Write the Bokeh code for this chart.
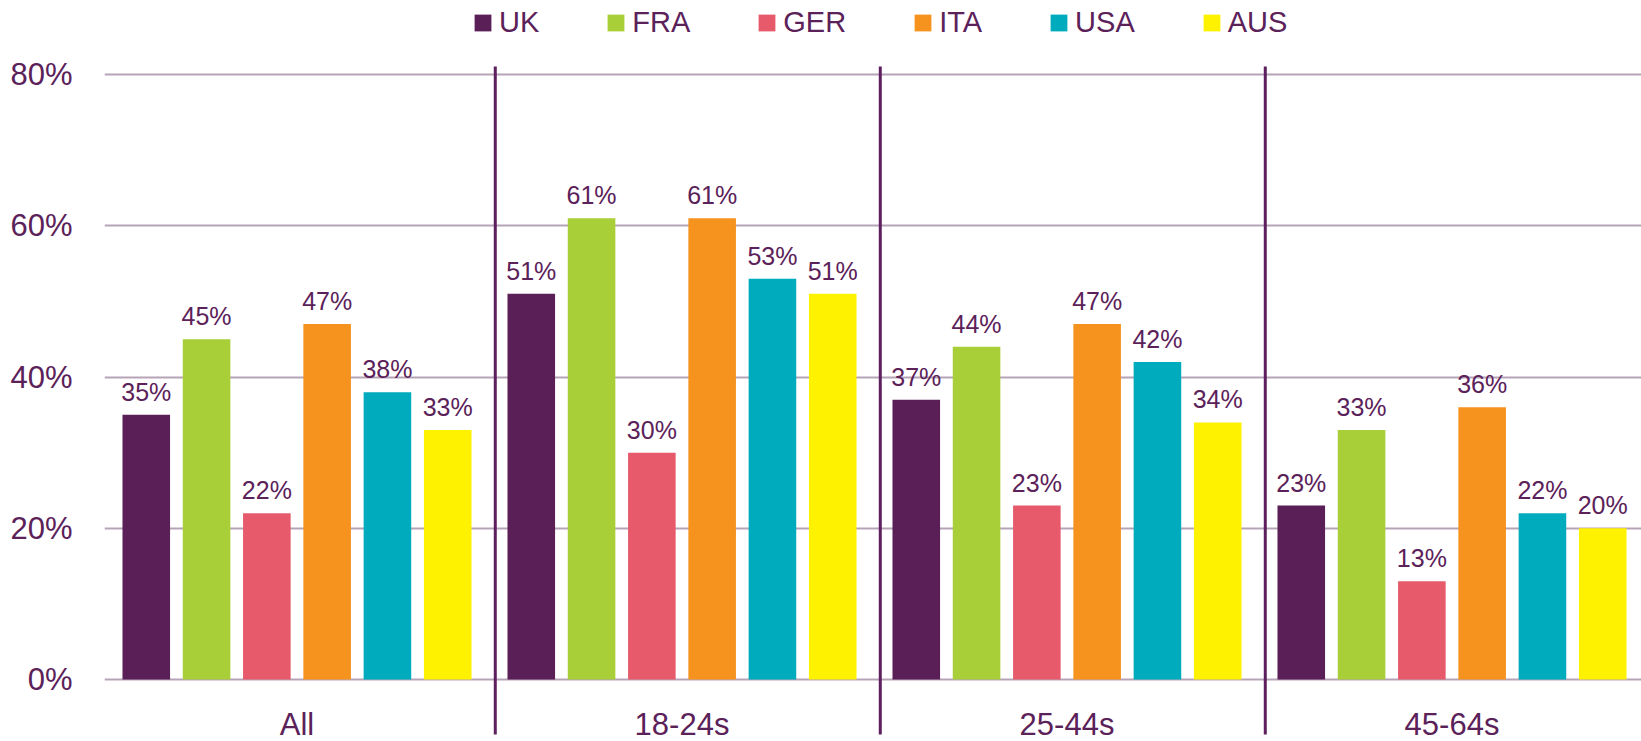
from bokeh.plotting import figure
from bokeh.models import Range1d, FixedTicker, Legend, LegendItem, ColumnDataSource
from bokeh.embed import file_html
from bokeh.resources import INLINE
from bokeh.core.properties import value

# ---- data ----
groups = ["All", "18-24s", "25-44s", "45-64s"]
countries = ["UK", "FRA", "GER", "ITA", "USA", "AUS"]
colors = ["#5a1f57", "#a9cf38", "#e65a6b", "#f6931f", "#00abbd", "#fff200"]
uk = [35, 51, 37, 23]
fra = [45, 61, 44, 33]
ger = [22, 30, 23, 13]
ita = [47, 61, 47, 36]
usa = [38, 53, 42, 22]
aus = [33, 51, 34, 20]
yticks = [0, 20, 40, 60, 80]
ytick_labels = ["0%", "20%", "40%", "60%", "80%"]

series = [uk, fra, ger, ita, usa, aus]

TEXT = "#5b2159"
FONT = "Liberation Sans"

p = figure(width=1641, height=741,
           x_range=Range1d(0, 3.9922), y_range=Range1d(-8.198, 89.785),
           output_backend="svg", toolbar_location=None,
           min_border_left=104, min_border_right=0,
           min_border_top=0, min_border_bottom=0)
p.outline_line_color = None
p.background_fill_color = "white"
p.border_fill_color = "white"

# grid
p.xgrid.visible = False
p.ygrid.ticker = FixedTicker(ticks=yticks)
p.ygrid.grid_line_color = "#b5a3b7"
p.ygrid.grid_line_width = 2

# axes
p.xaxis.visible = False
ya = p.yaxis[0]
ya.ticker = FixedTicker(ticks=yticks)
ya.major_label_overrides = {t: l for t, l in zip(yticks, ytick_labels)}
ya.axis_line_color = None
ya.major_tick_line_color = None
ya.minor_tick_line_color = None
ya.major_label_standoff = 26
ya.major_label_text_font = FONT
ya.major_label_text_font_size = "31px"
ya.major_label_text_color = TEXT

# bars
pitch = 0.1566
bw = 0.1236
items = []
for si, (name, vals, col) in enumerate(zip(countries, series, colors)):
    xs = [gi + 0.5 + (si - 2.5) * pitch for gi in range(len(groups))]
    src = ColumnDataSource(dict(x=xs, top=vals, label=[f"{v}%" for v in vals]))
    r = p.vbar(x="x", top="top", bottom=0, width=bw, source=src,
               fill_color=col, line_color=None)
    p.text(x="x", y="top", text="label", source=src, y_offset=-23,
           text_align="center", text_baseline="middle",
           text_font=value(FONT), text_font_size="25px", text_color=TEXT)
    items.append(LegendItem(label=name, renderers=[r]))

# group labels
gx = [gi + 0.5 for gi in range(len(groups))]
p.text(x=gx, y=[0] * len(groups), text=groups, y_offset=45,
       text_align="center", text_baseline="middle",
       text_font=value(FONT), text_font_size="31px", text_color=TEXT)

# separators between groups
sx = [b + 0.015 for b in range(1, len(groups))]
p.segment(x0=sx, x1=sx, y0=[-7.27] * len(sx), y1=[81.06] * len(sx),
          line_color="#5e1f5e", line_width=3)

legend = Legend(items=items, orientation="horizontal", location=(368, 702),
                glyph_width=21, glyph_height=21, label_standoff=6, spacing=66,
                padding=0, margin=0, border_line_color=None,
                background_fill_alpha=0,
                label_text_font=FONT, label_text_font_size="29px",
                label_text_color=TEXT)
p.add_layout(legend)

open("out.html", "w").write(file_html(p, INLINE))
